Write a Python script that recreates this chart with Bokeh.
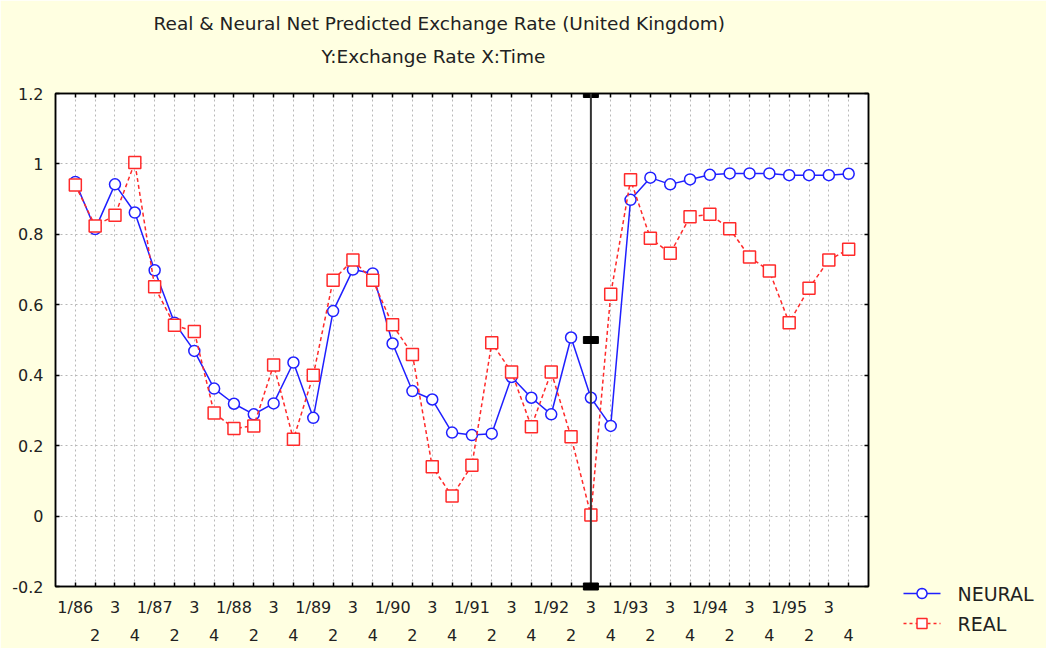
import numpy as np
from bokeh.plotting import figure
from bokeh.models import (FixedTicker, LinearAxis, Title, Span, Range1d,
                          NumeralTickFormatter)
from bokeh.core.properties import value
from bokeh.embed import file_html
from bokeh.resources import INLINE

# ---------------- data ----------------
year_labels = ["1/86", "1/87", "1/88", "1/89", "1/90",
               "1/91", "1/92", "1/93", "1/94", "1/95"]
quarter_row1 = ["", "", "3", ""]      # row 1 shows 1/yy and 3
quarter_row2 = ["", "2", "", "4"]     # row 2 shows 2 and 4
quarters = list(range(40))

neural = [0.949, 0.815, 0.942, 0.862, 0.698, 0.549, 0.469, 0.362, 0.319, 0.289,
          0.320, 0.436, 0.279, 0.582, 0.700, 0.689, 0.490, 0.355, 0.331, 0.237,
          0.230, 0.234, 0.395, 0.336, 0.289, 0.507, 0.336, 0.256, 0.898, 0.961,
          0.942, 0.956, 0.969, 0.973, 0.973, 0.973, 0.968, 0.968, 0.968, 0.972]
real = [0.940, 0.824, 0.854, 1.004, 0.651, 0.542, 0.524, 0.293, 0.249, 0.256,
        0.429, 0.218, 0.400, 0.670, 0.727, 0.670, 0.543, 0.459, 0.140, 0.057,
        0.144, 0.492, 0.409, 0.254, 0.409, 0.225, 0.003, 0.630, 0.955, 0.789,
        0.746, 0.850, 0.857, 0.816, 0.736, 0.696, 0.549, 0.647, 0.727, 0.758]

series_names = ["NEURAL", "REAL"]

y_ticks = [-0.2, 0.0, 0.2, 0.4, 0.6, 0.8, 1.0, 1.2]
split_index = 26
split_marks = [1.2, 0.5, -0.2]

title1 = "Real & Neural Net Predicted Exchange Rate (United Kingdom)"
title2 = "Y:Exchange Rate  X:Time"

# tick label tables built from the arrays above
row1 = {}
row2 = {}
for q in quarters:
    yr, k = divmod(q, 4)
    row1[q] = year_labels[yr] if k == 0 else quarter_row1[k]
    row2[q] = quarter_row2[k]

FONT = "DejaVu Sans"
TXT = "#222222"
BG = "#FFFFE1"
BLUE = "#1f1fff"
RED = "#ff2a2a"

W, H = 1046, 648
FL, FR, FT, FB = 55, 868, 93, 586   # frame edges in page pixels

p = figure(width=W, height=H, x_range=(-1, 40), y_range=(-0.2, 1.2),
           output_backend="svg", toolbar_location=None,
           min_border_left=FL, min_border_right=W - FR,
           min_border_top=FT, min_border_bottom=H - FB,
           background_fill_color="white", border_fill_color=BG)
p.outline_line_color = "black"
p.outline_line_width = 1.5
# pixel ranges for the legend block drawn outside the frame
p.extra_x_ranges = {"px": Range1d(FL, FR)}
p.extra_y_ranges = {"py": Range1d(FB, FT)}


def style_axis(ax, show_labels=True):
    ax.major_tick_in = 4
    ax.major_tick_out = 0
    ax.minor_tick_line_color = None
    ax.major_tick_line_color = "black"
    ax.major_tick_line_width = 1.5
    ax.axis_line_color = "black"
    ax.axis_line_width = 1.5
    ax.major_label_text_font = FONT
    ax.major_label_text_font_size = "16px"
    ax.major_label_text_color = TXT if show_labels else None


# bottom axis (row 1 labels, ticks at every quarter)
xa = p.xaxis[0]
xa.ticker = FixedTicker(ticks=quarters)
xa.major_label_overrides = row1
style_axis(xa)
xa.major_label_standoff = 11

# second bottom row (2 / 4)
xa2 = LinearAxis(ticker=FixedTicker(ticks=[q for q in quarters if q % 2 == 1]),
                 major_label_overrides=row2)
style_axis(xa2)
xa2.axis_line_color = None
xa2.major_tick_line_color = None
xa2.major_label_standoff = 9
p.add_layout(xa2, "below")

# left axis
ya = p.yaxis[0]
ya.ticker = FixedTicker(ticks=y_ticks)
ya.formatter = NumeralTickFormatter(format="0.[0]")
style_axis(ya)
ya.major_label_standoff = 12

# top axis: ticks only, blank labels reserve space below the titles
xt = LinearAxis(ticker=FixedTicker(ticks=quarters),
                major_label_overrides={q: " " for q in quarters})
style_axis(xt)
xt.major_label_standoff = 4
p.add_layout(xt, "above")
# right axis: ticks only
yr_ax = LinearAxis(ticker=FixedTicker(ticks=y_ticks))
style_axis(yr_ax, show_labels=False)
yr_ax.major_label_text_font_size = "1px"
yr_ax.major_label_standoff = 0
p.add_layout(yr_ax, "right")

# titles (added outward from the frame)
p.add_layout(Title(text=title2, align="left", offset=266, standoff=2,
                   text_font=FONT, text_font_size="18.5px",
                   text_font_style="normal", text_color=TXT), "above")
p.add_layout(Title(text=title1, align="left", offset=98, standoff=18,
                   text_font=FONT, text_font_size="18.5px",
                   text_font_style="normal", text_color=TXT), "above")

# grids
for g in (p.xgrid[0], p.ygrid[0]):
    g.grid_line_color = "#b8b8b8"
    g.grid_line_dash = "2 3"
    g.grid_line_width = 1

# split line with its three handles
p.add_layout(Span(location=split_index, dimension="height",
                  line_color="#333333", line_width=2))
p.rect(x=[split_index], y=split_marks[:1], width=15, height=8,
       width_units="screen", height_units="screen",
       fill_color="black", line_color="black")
p.rect(x=[split_index] * 2, y=split_marks[1:], width=15, height=7,
       width_units="screen", height_units="screen",
       fill_color="black", line_color="black", level="overlay")

p.line(quarters, neural, line_color=BLUE, line_width=1.5)
p.scatter(quarters, neural, marker="circle", size=11, line_color=BLUE,
          line_width=1.5, fill_color="white")
p.line(quarters, real, line_color=RED, line_width=1.5, line_dash="4 3")
p.scatter(quarters, real, marker="square", size=12, line_color=RED,
          line_width=1.5, fill_color="white")

# ---------------- legend (outside the frame, page-pixel ranges) ----------
row_y = [593, 623]
kw = dict(x_range_name="px", y_range_name="py", level="overlay")
gx0, gx1 = 903, 940
gcx = (gx0 + gx1) / 2
p.line([gx0, gx1], [row_y[0]] * 2, line_color=BLUE, line_width=1.5, **kw)
t = np.linspace(0, 2 * np.pi, 25)
p.patch(gcx + 5 * np.cos(t), row_y[0] + 5 * np.sin(t), fill_color="white",
        line_color=BLUE, line_width=1.5, **kw)
p.line([gx0, gx1], [row_y[1]] * 2, line_color=RED, line_width=1.5,
       line_dash="3 3", **kw)
p.patch([gcx - 5, gcx + 5, gcx + 5, gcx - 5],
        [row_y[1] - 5, row_y[1] - 5, row_y[1] + 5, row_y[1] + 5],
        fill_color="white", line_color=RED, line_width=1.5, **kw)
p.text(x=[957, 957], y=row_y, text=series_names, text_baseline="middle",
       text_align="left", text_font=value(FONT), text_font_size="19px",
       text_color=TXT, **kw)

open("out.html", "w").write(file_html(p, INLINE))
